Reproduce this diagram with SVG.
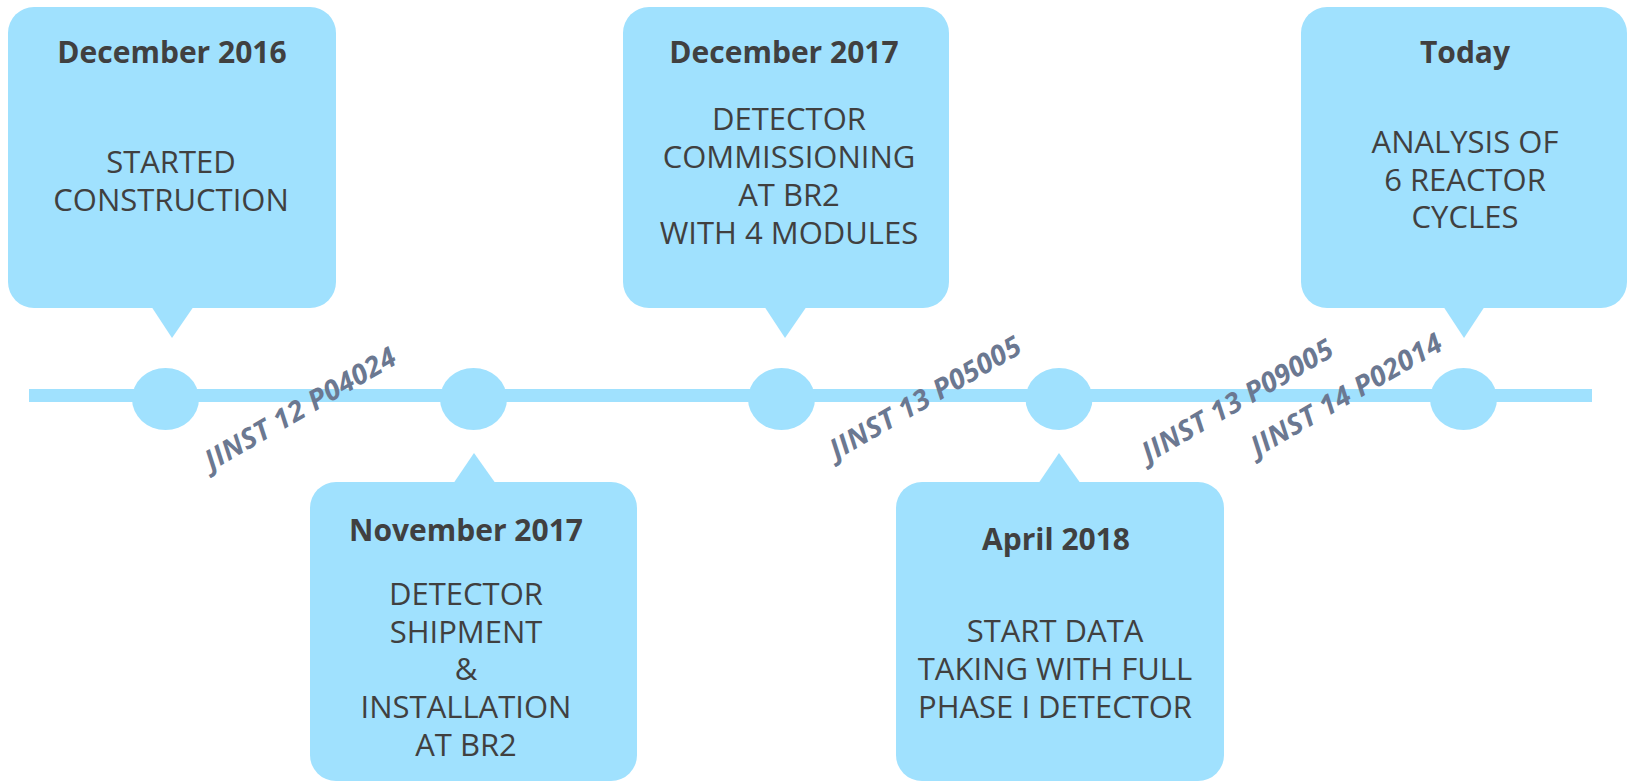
<svg xmlns="http://www.w3.org/2000/svg" width="1629" height="782" viewBox="0 0 1629 782">
<style>
.box{fill:#a0e1fe}
.hd{font-family:"Open Sans","Noto Sans","Liberation Sans",sans-serif;font-weight:bold;font-size:30px;fill:#404040;text-anchor:middle}
.bd{font-family:"Open Sans","Noto Sans","Liberation Sans",sans-serif;font-size:31px;fill:#404040;text-anchor:middle}
.jn{font-family:"Open Sans","Noto Sans","Liberation Sans",sans-serif;font-weight:bold;font-style:italic;font-size:28px;fill:#6b7891;text-anchor:middle}
</style>
<rect width="1629" height="782" fill="#ffffff"/>
<g id="connectors">
<rect class="box" x="29" y="389" width="1563" height="13"/>
<ellipse class="box" cx="165.5" cy="399" rx="33.5" ry="31"/>
<ellipse class="box" cx="473.5" cy="399" rx="33.5" ry="31"/>
<ellipse class="box" cx="781.5" cy="399" rx="33.5" ry="31"/>
<ellipse class="box" cx="1059" cy="399" rx="33.5" ry="31"/>
<ellipse class="box" cx="1463.5" cy="399" rx="33.5" ry="31"/>
</g>
<g id="node-dec2016">
<rect class="box" x="8" y="7" width="328" height="301" rx="26"/>
<polygon class="box" points="151,306 194,306 172,338"/>
<text class="hd" x="172" y="63">December 2016</text>
<text class="bd" x="171" y="173">STARTED</text>
<text class="bd" x="171" y="211">CONSTRUCTION</text>
</g>
<g id="node-nov2017">
<rect class="box" x="310" y="482" width="327" height="299" rx="26"/>
<polygon class="box" points="453,484 496,484 474,453"/>
<text class="hd" x="466" y="541">November 2017</text>
<text class="bd" x="466" y="605">DETECTOR</text>
<text class="bd" x="466" y="643">SHIPMENT</text>
<text class="bd" x="466" y="680">&amp;</text>
<text class="bd" x="466" y="718">INSTALLATION</text>
<text class="bd" x="466" y="756">AT BR2</text>
</g>
<g id="node-dec2017">
<rect class="box" x="623" y="7" width="326" height="301" rx="26"/>
<polygon class="box" points="764,306 807,306 785,338"/>
<text class="hd" x="784" y="63">December 2017</text>
<text class="bd" x="789" y="130">DETECTOR</text>
<text class="bd" x="789" y="168">COMMISSIONING</text>
<text class="bd" x="789" y="206">AT BR2</text>
<text class="bd" x="789" y="244">WITH 4 MODULES</text>
</g>
<g id="node-apr2018">
<rect class="box" x="896" y="482" width="328" height="299" rx="26"/>
<polygon class="box" points="1038,484 1081,484 1059,453"/>
<text class="hd" x="1056" y="550">April 2018</text>
<text class="bd" x="1055" y="642">START DATA</text>
<text class="bd" x="1055" y="680">TAKING WITH FULL</text>
<text class="bd" x="1055" y="718">PHASE I DETECTOR</text>
</g>
<g id="node-today">
<rect class="box" x="1301" y="7" width="326" height="301" rx="26"/>
<polygon class="box" points="1443,306 1485,306 1464,338"/>
<text class="hd" x="1465" y="63">Today</text>
<text class="bd" x="1465" y="153">ANALYSIS OF</text>
<text class="bd" x="1465" y="191">6 REACTOR</text>
<text class="bd" x="1465" y="228">CYCLES</text>
</g>
<g id="labels">
<text class="jn" transform="translate(305,417) rotate(-30)" textLength="216" lengthAdjust="spacing">JINST 12 P04024</text>
<text class="jn" transform="translate(930,406) rotate(-30)" textLength="216" lengthAdjust="spacing">JINST 13 P05005</text>
<text class="jn" transform="translate(1242,409) rotate(-30)" textLength="216" lengthAdjust="spacing">JINST 13 P09005</text>
<text class="jn" transform="translate(1351,403) rotate(-30)" textLength="216" lengthAdjust="spacing">JINST 14 P02014</text>
</g>
</svg>
